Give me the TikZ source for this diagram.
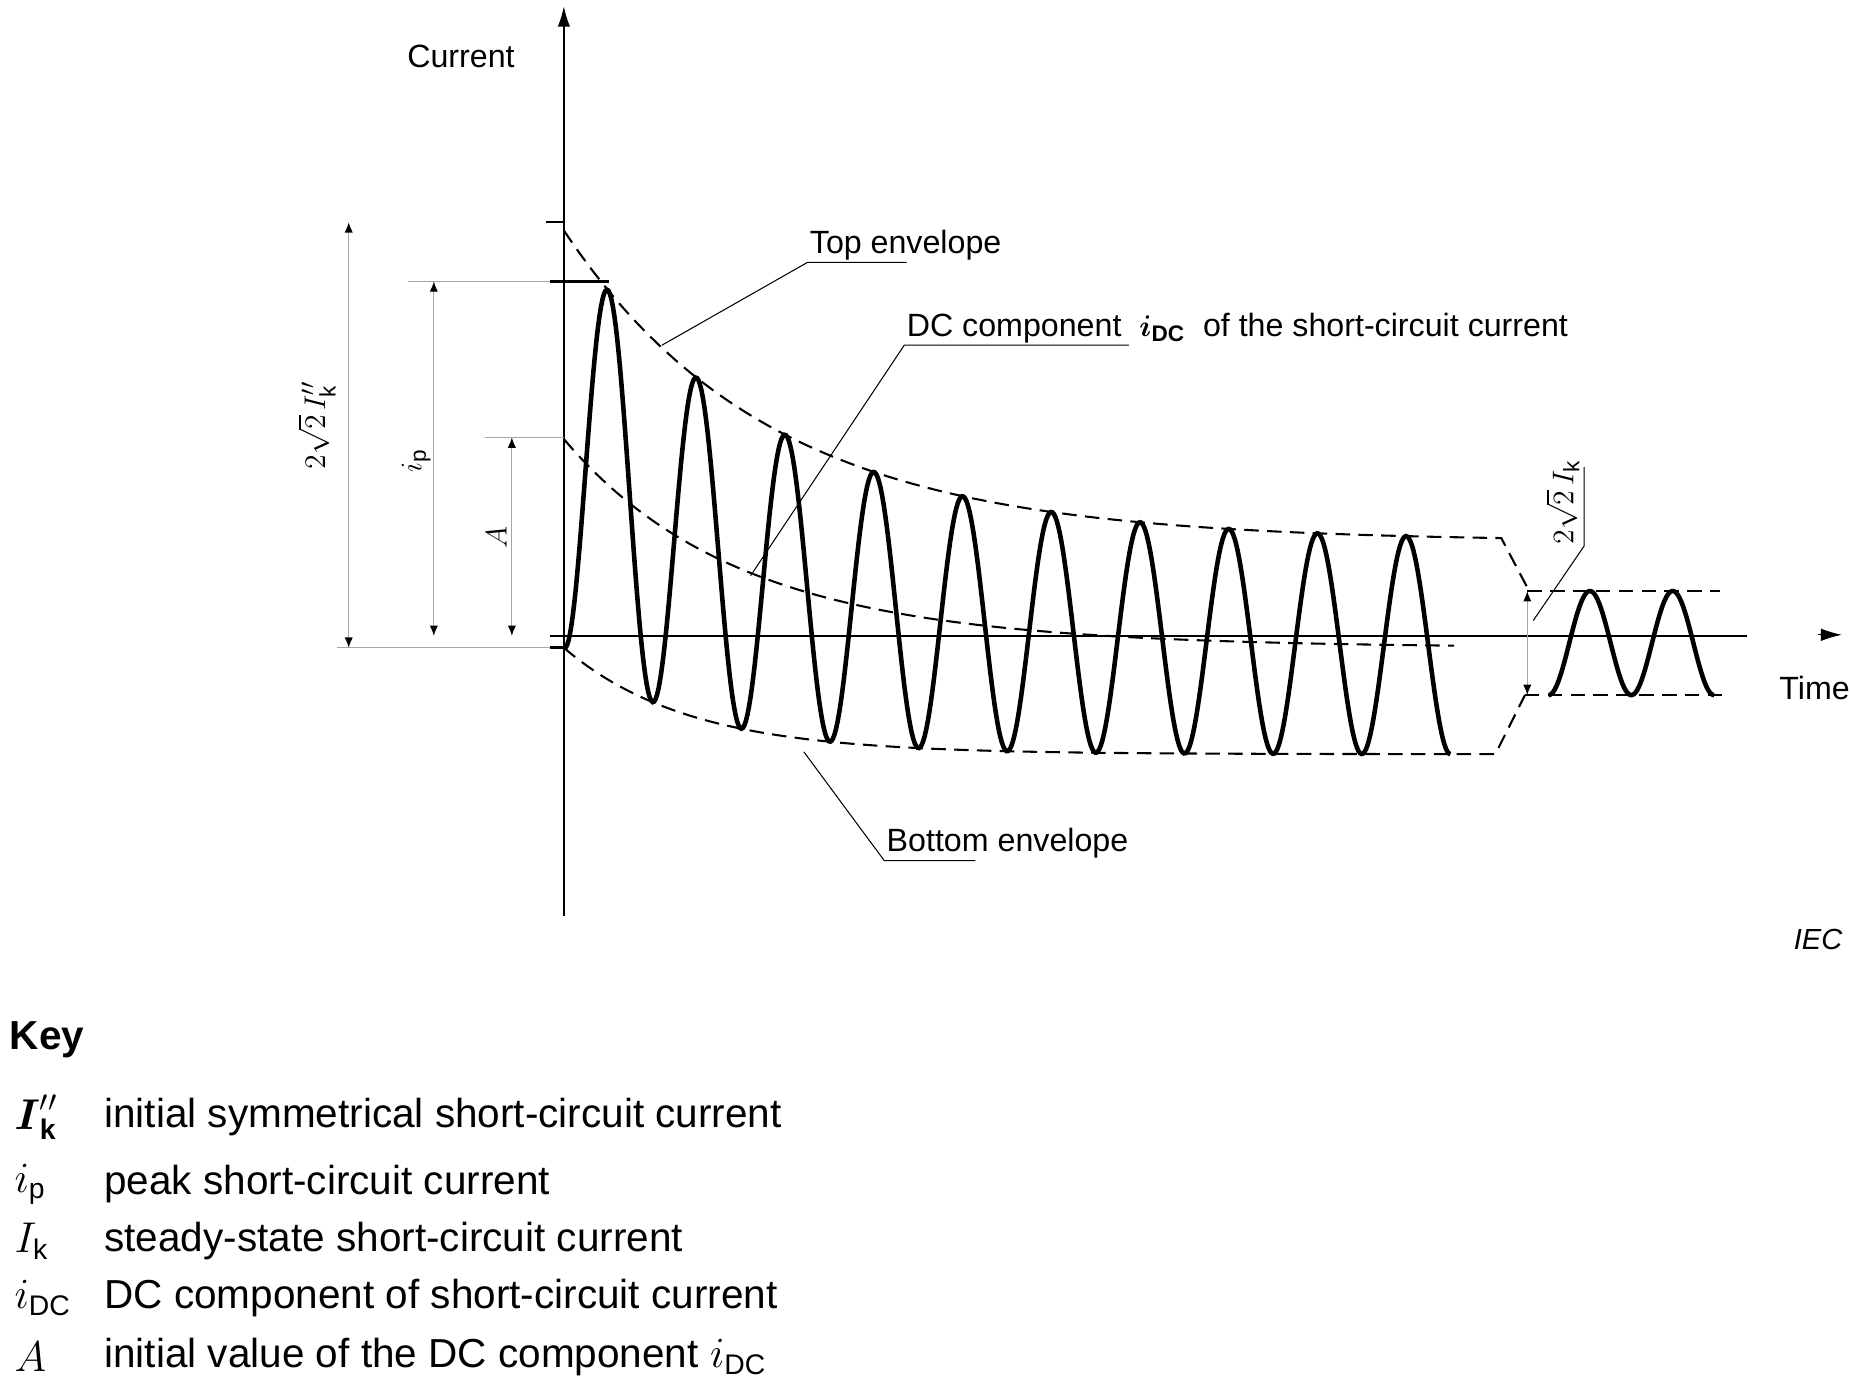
\documentclass[tikz,border=0pt]{standalone}
\usepackage{amsmath}
\usepackage{fontspec}
\setmainfont{Liberation Sans}
\usetikzlibrary{arrows.meta}
\tikzset{
 dimline/.style={gray!70,line width=0.6pt},
 dimarr/.style={gray!70,line width=0.6pt,{Latex[length=5pt,width=4pt,black]}-{Latex[length=5pt,width=4pt,black]}},
 env/.style={black,line width=1pt,dash pattern=on 7pt off 4pt},
 wave/.style={black,line width=2.2pt},
 lead/.style={black,line width=0.5pt},
 lbl/.style={font=\fontsize{15.5}{17}\selectfont,inner sep=1pt},
 keyt/.style={font=\fontsize{19.5}{21}\selectfont,anchor=west,inner sep=0pt},
 declare function={topf(\x)=458-263*exp(-(\x-477)/175); botf(\x)=638-90*exp(-(\x-477)/105);}
}
\begin{document}
\begin{tikzpicture}[x=0.02cm,y=-0.02cm]
\useasboundingbox (0,0) rectangle (1565,1169);
% axes
\coordinate (ybot) at (477,775); \coordinate (ytop) at (477,5);
\draw[line width=1pt,-{Latex[length=10pt,width=6pt]}] (ybot) -- (ytop);
\coordinate (xl) at (465,538); \coordinate (xr) at (1478,538);
\draw[line width=1pt] (xl) -- (xr);
\coordinate (xa1) at (1538,537); \coordinate (xa2) at (1558,537);
\draw[-{Latex[length=10pt,width=6pt]}] (xa1) -- (xa2);
\node[lbl] (cur) at (390,48) {Current};
\node[lbl] (time) at (1535,582) {Time};
% ticks / extension lines
\draw[line width=1pt] (462,188) -- (477,188);
\draw[dimline] (345,238) -- (465,238); \draw[line width=1.5pt] (465,238) -- (515,238);
\draw[dimline] (410,370) -- (477,370);
\draw[dimline] (285,548) -- (477,548);
\draw[line width=1.5pt] (465,548) -- (477,548);
% dimension arrows
\draw[dimarr] (295,188) -- (295,548);
\draw[dimarr] (367,238) -- (367,538);
\draw[dimarr] (433,370) -- (433,538);
\node[lbl,rotate=90] (l1) at (268,360) {$2\sqrt{2}\,I''_{\mathrm{k}}$};
\node[lbl,rotate=90] (l2) at (352,390) {$i_{\mathrm{p}}$};
\node[lbl,rotate=90] (l3) at (420,455) {$A$};
% envelopes
\draw[env] plot[domain=477:1270,samples=120] (\x,{topf(\x)}) -- (1292,497);
\draw[env] (1292,500) -- (1455,500);
\draw[env] plot[domain=477:1265,samples=120] (\x,{botf(\x)}) -- (1290,588);
\draw[env] (1290,588) -- (1460,588);
\draw[env] plot[domain=477:1230,samples=120] (\x,{(topf(\x)+botf(\x))/2});
% transient wave
\draw[wave] plot[domain=477:1227,samples=600] (\x,{(topf(\x)+botf(\x))/2+(botf(\x)-topf(\x))/2*cos(4.8*(\x-477))});
% steady wave
\draw[wave] plot[domain=1310:1450,samples=150] (\x,{544+44*cos(5.142857*(\x-1310))});
% steady dimension
\draw[dimarr] (1292,500) -- (1292,588);
\node[lbl,rotate=90] (l4) at (1322,425) {$2\sqrt{2}\,I_{\mathrm{k}}$};
\draw[lead] (1297,525) -- (1340,462) -- (1340,395);
% labels with leaders
\node[lbl,anchor=south west] (te) at (683,222) {Top envelope};
\draw[lead] (560,292) -- (te.south west) -- (767,222);
\node[lbl,anchor=south west] (dc) at (765,292) {DC component~ $\boldsymbol{i}_{\mathbf{DC}}$~ of the short-circuit current};
\draw[lead] (635,487) -- (dc.south west) -- (955,292);
\node[lbl,anchor=south west] (be) at (748,728) {Bottom envelope};
\draw[lead] (680,636) -- (be.south west) -- (825,728);
\node[lbl,font=\fontsize{14}{16}\selectfont\itshape] (iec) at (1538,795) {IEC};
% key
\node[keyt,font=\fontsize{19.5}{21}\selectfont\bfseries] (key) at (8,880) {Key};
\node[keyt] (s1) at (12,945) {$\boldsymbol{I}''_{\mathbf{k}}$};
\node[keyt] (t1) at (88,945) {initial symmetrical short-circuit current};
\node[keyt] (s2) at (12,1002) {$i_{\mathrm{p}}$};
\node[keyt] (t2) at (88,1002) {peak short-circuit current};
\node[keyt] (s3) at (12,1050) {$I_{\mathrm{k}}$};
\node[keyt] (t3) at (88,1050) {steady-state short-circuit current};
\node[keyt] (s4) at (12,1098) {$i_{\mathrm{DC}}$};
\node[keyt] (t4) at (88,1098) {DC component of short-circuit current};
\node[keyt] (s5) at (12,1148) {$A$};
\node[keyt] (t5) at (88,1148) {initial value of the DC component $i_{\mathrm{DC}}$};
\end{tikzpicture}
\end{document}
